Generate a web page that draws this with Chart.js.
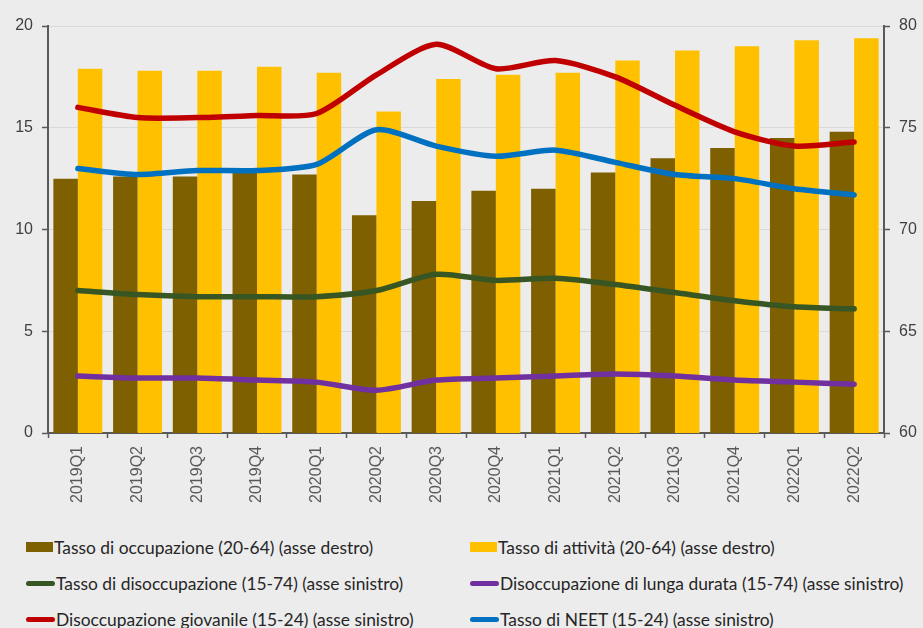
<!DOCTYPE html>
<html>
<head>
<meta charset="utf-8">
<script src="https://cdn.jsdelivr.net/npm/chart.js@4/dist/chart.umd.min.js"></script>
<style>
    body { margin: 0; background: #ececec; width: 923px; height: 628px; overflow: hidden; }
    #wrap { position: absolute; left: 0; top: 0; width: 923px; height: 525px; }
    #legend { position: absolute; left: 0; top: 530px; width: 923px; font-family: "Lato", "Liberation Sans", sans-serif; font-size: 17.4px; color: #262626; }
    .item { position: absolute; display: flex; align-items: center; white-space: nowrap; }
    .sw { display: inline-block; margin-right: 1px; }
</style>
</head>
<body>
<div id="wrap"><canvas id="chart" width="923" height="525"></canvas></div>
<div id="legend"></div>
<script>
const quarters = ["2019Q1", "2019Q2", "2019Q3", "2019Q4", "2020Q1", "2020Q2", "2020Q3",
    "2020Q4", "2021Q1", "2021Q2", "2021Q3", "2021Q4", "2022Q1", "2022Q2"];

// asse destro (60-80)
const occupazione = [72.5, 72.6, 72.6, 72.8, 72.7, 70.7, 71.4, 71.9, 72.0, 72.8, 73.5, 74.0, 74.5, 74.8];
const attivita = [77.9, 77.8, 77.8, 78.0, 77.7, 75.8, 77.4, 77.6, 77.7, 78.3, 78.8, 79.0, 79.3, 79.4];

// asse sinistro (0-20)
const disoccupazione = [7.0, 6.8, 6.7, 6.7, 6.7, 7.0, 7.8, 7.5, 7.6, 7.3, 6.9, 6.5, 6.2, 6.1];
const lungaDurata = [2.8, 2.7, 2.7, 2.6, 2.5, 2.1, 2.6, 2.7, 2.8, 2.9, 2.8, 2.6, 2.5, 2.4];
const giovanile = [16.0, 15.5, 15.5, 15.6, 15.7, 17.6, 19.1, 17.9, 18.3, 17.5, 16.1, 14.8, 14.1, 14.3];
const neet = [13.0, 12.7, 12.9, 12.9, 13.2, 14.9, 14.1, 13.6, 13.9, 13.3, 12.7, 12.5, 12.0, 11.7];

const leftTicks = [0, 5, 10, 15, 20];
const rightTicks = [60, 65, 70, 75, 80];

const axisColor = '#595959';
const gridColor = '#d9d9d9';
const tickFont = { family: 'Liberation Sans', size: 16 };

function lineSet(label, data, color) {
    return {
        type: 'line', label: label, data: data, yAxisID: 'y',
        borderColor: color, backgroundColor: color, borderWidth: 5.5,
        pointRadius: 0, tension: 0.25, borderCapStyle: 'round', order: 0, kind: 'line'
    };
}

const ctx = document.getElementById('chart').getContext('2d');
const chart = new Chart(ctx, {
    data: {
        labels: quarters,
        datasets: [
            { type: 'bar', label: 'Tasso di occupazione (20-64) (asse destro)', data: occupazione, yAxisID: 'y1',
              backgroundColor: '#7f6000', categoryPercentage: 0.82, barPercentage: 1.0, order: 1, kind: 'bar' },
            { type: 'bar', label: 'Tasso di attività (20-64) (asse destro)', data: attivita, yAxisID: 'y1',
              backgroundColor: '#ffc000', categoryPercentage: 0.82, barPercentage: 1.0, order: 1, kind: 'bar' },
            lineSet('Tasso di disoccupazione (15-74) (asse sinistro)', disoccupazione, '#375623'),
            lineSet('Disoccupazione di lunga durata (15-74) (asse sinistro)', lungaDurata, '#7030a0'),
            lineSet('Disoccupazione giovanile (15-24) (asse sinistro)', giovanile, '#c00000'),
            lineSet('Tasso di NEET (15-24) (asse sinistro)', neet, '#0070c0')
        ]
    },
    options: {
        responsive: false,
        animation: false,
        layout: { padding: { top: 26, left: 0, right: 0, bottom: 0 } },
        plugins: { legend: { display: false }, tooltip: { enabled: false } },
        scales: {
            x: {
                grid: { offset: true, drawOnChartArea: false, tickLength: 5, tickColor: axisColor, tickWidth: 1.5 },
                border: { color: axisColor, width: 2 },
                ticks: { color: axisColor, font: tickFont, minRotation: 90, maxRotation: 90, padding: 8, autoSkip: false },
                afterFit: function (scale) { scale.height = 92; }
            },
            y: {
                position: 'left', min: 0, max: 20,
                afterBuildTicks: function (scale) { scale.ticks = leftTicks.map(v => ({ value: v })); },
                grid: { color: gridColor, tickColor: axisColor, tickLength: 6, tickWidth: 1.5 },
                border: { color: axisColor, width: 2 },
                ticks: { color: '#404040', font: tickFont, padding: 9 },
                afterFit: function (scale) { scale.width = 48; }
            },
            y1: {
                position: 'right', min: 60, max: 80,
                afterBuildTicks: function (scale) { scale.ticks = rightTicks.map(v => ({ value: v })); },
                grid: { drawOnChartArea: false, tickColor: axisColor, tickLength: 6, tickWidth: 1.5 },
                border: { color: axisColor, width: 2 },
                ticks: { color: '#404040', font: tickFont, padding: 9 },
                afterFit: function (scale) { scale.width = 39; }
            }
        }
    }
});

// legenda in due colonne
const legend = document.getElementById('legend');
const colX = [26, 470];
const rowY = [17, 53, 89];
chart.data.datasets.forEach(function (ds, i) {
    const item = document.createElement('div');
    item.className = 'item';
    item.style.left = colX[i % 2] + 'px';
    item.style.top = (rowY[Math.floor(i / 2)] - 11) + 'px';
    item.style.height = '22px';
    const sw = document.createElement('span');
    sw.className = 'sw';
    sw.style.background = ds.backgroundColor;
    if (ds.kind === 'bar') {
        sw.style.width = '27px'; sw.style.height = '10px';
    } else {
        sw.style.width = '29px'; sw.style.height = '5px'; sw.style.borderRadius = '3px';
    }
    const txt = document.createElement('span');
    txt.textContent = ds.label;
    item.appendChild(sw);
    item.appendChild(txt);
    legend.appendChild(item);
});
</script>
</body>
</html>
